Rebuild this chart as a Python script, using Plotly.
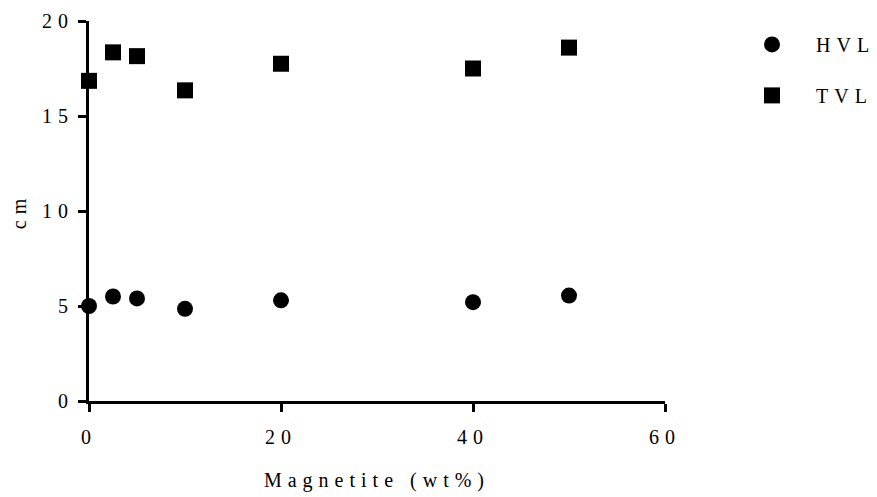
import plotly.graph_objects as go

magnetite = [0, 2.5, 5, 10, 20, 40, 50]
hvl = [5.0, 5.5, 5.4, 4.85, 5.3, 5.2, 5.55]
tvl = [16.85, 18.35, 18.15, 16.35, 17.75, 17.5, 18.6]
x_ticks = [0, 20, 40, 60]
y_ticks = [0, 5, 10, 15, 20]

FONT = "Liberation Serif, Times New Roman, serif"
SP = "<span style='letter-spacing:6px'>{}</span>"

fig = go.Figure()
fig.add_trace(go.Scatter(x=magnetite, y=hvl, mode="markers", name=SP.format("HVL"),
                         legendgroup="a", cliponaxis=False,
                         marker=dict(symbol="circle", size=16, color="black")))
fig.add_trace(go.Scatter(x=magnetite, y=tvl, mode="markers", name=SP.format("TVL"),
                         legendgroup="b", cliponaxis=False,
                         marker=dict(symbol="square", size=16, color="black")))

axis_common = dict(showline=True, linecolor="black", linewidth=3,
                   ticks="outside", ticklen=8, tickwidth=3, tickcolor="black",
                   showgrid=False, zeroline=False, layer="below traces",
                   automargin=False,
                   tickfont=dict(family=FONT, size=20, color="black"))

fig.update_layout(
    width=877, height=497,
    margin=dict(l=81, r=220, t=13, b=104),
    plot_bgcolor="white", paper_bgcolor="white",
    font=dict(family=FONT, size=20, color="black"),
    xaxis=dict(range=[0, 60], tickvals=x_ticks,
               ticktext=[SP.format(v) for v in x_ticks], ticklabelstandoff=8,
               title=dict(text=SP.format("Magnetite (wt%)"), standoff=26,
                          font=dict(family=FONT, size=20)),
               **axis_common),
    yaxis=dict(range=[0, 20], tickvals=y_ticks,
               ticktext=[SP.format(v) for v in y_ticks], ticklabelstandoff=0,
               title=dict(text=SP.format("cm"), standoff=18,
                          font=dict(family=FONT, size=20)),
               **axis_common),
    legend=dict(xref="container", yref="container", x=0.821, y=0.966,
                xanchor="left", yanchor="top",
                font=dict(family=FONT, size=20, color="black"),
                tracegroupgap=22, itemwidth=78, bgcolor="rgba(0,0,0,0)"),
)

fig.write_html("out.html")
